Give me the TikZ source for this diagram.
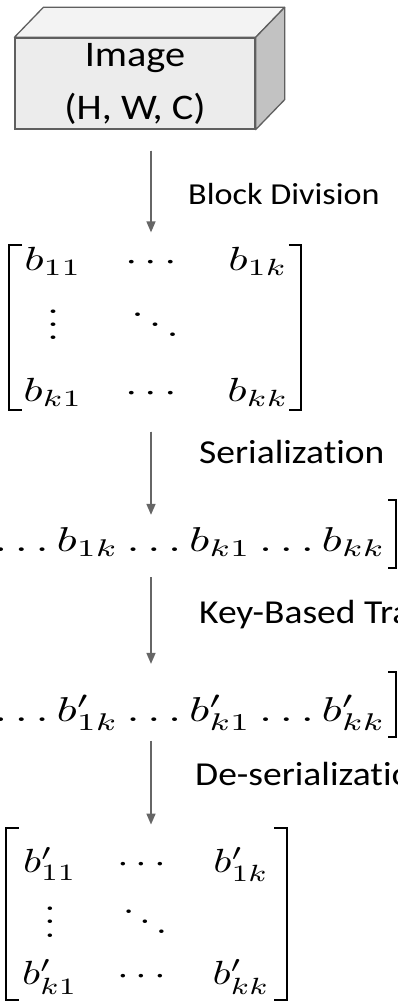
\documentclass[tikz,border=0pt]{standalone}
\usepackage{fontspec}
\usepackage{graphicx}
\usepackage{amsmath}
\usetikzlibrary{arrows.meta,calc,positioning}
\newfontfamily\labelfont[Ligatures=NoCommon, FakeStretch=1.12]{Carlito}
\definecolor{edgegray}{HTML}{5F5F5F}
\definecolor{frontgray}{HTML}{ECECEC}
\definecolor{topgray}{HTML}{F3F3F3}
\definecolor{sidegray}{HTML}{C2C2C2}
\definecolor{arrowgray}{HTML}{666666}
\setlength{\arraycolsep}{4.7pt}
\newcommand{\stretched}[3]{\scalebox{#1}[#2]{$#3$}}

\begin{document}
\begin{tikzpicture}[x=1pt,y=-1pt,
    cube/.style={draw=edgegray, line width=1.3pt, fill=frontgray, minimum width=240pt, minimum height=91pt, align=center, font=\labelfont\fontsize{36}{53}\selectfont},
    face/.style={draw=edgegray, line width=1.3pt, line join=round},
    steplabel/.style={anchor=base west, inner sep=0pt, font=\labelfont\fontsize{33.5}{40}\selectfont},
    flow/.style={-{Triangle[length=11pt,width=9pt]}, line width=1.6pt, draw=arrowgray, fill=arrowgray},
    bracket/.style={line width=1.6pt}]
    \useasboundingbox (0,0) rectangle (398,1006);
    \clip (0,0) rectangle (398,1006);
    \coordinate (axis) at (151,0);

    \node[cube] (image) at (135,83.5) {Image\\(H, W, C)};
    \draw[face, fill=topgray] (image.north west) -- ++(29,-30) -- ([shift={(29,-30)}]image.north east) -- (image.north east) -- cycle;
    \draw[face, fill=sidegray] (image.north east) -- ++(29,-30) -- ([shift={(29,-30)}]image.south east) -- (image.south east) -- cycle;

    \node[inner sep=0pt] (blocks) at (156,324) {\renewcommand{\arraystretch}{1.54}\stretched{4.5}{3.35}{\begin{matrix} b_{11} & \cdots & b_{1k}\\ \vdots & \ddots & \\ b_{k1} & \cdots & b_{kk}\end{matrix}}};
    \node[inner sep=0pt, anchor=base east] (serial) at (386,551) {\stretched{4.7}{3.45}{b_{11}\ldots b_{1k}\ldots b_{k1}\ldots b_{kk}}};
    \node[inner sep=0pt, anchor=base east] (keyed) at (386,721) {\stretched{4.7}{3.45}{b'_{11}\ldots b'_{1k}\ldots b'_{k1}\ldots b'_{kk}}};
    \node[inner sep=0pt] (restored) at (146,919) {\renewcommand{\arraystretch}{1.19}\stretched{4.2}{3.35}{\begin{matrix} b'_{11} & \cdots & b'_{1k}\\ \vdots & \ddots & \\ b'_{k1} & \cdots & b'_{kk}\end{matrix}}};

    \draw[bracket] ([shift={(-1,-79)}]blocks.west) -- ++(-13,0) -- ++(0,165) -- ++(13,0);
    \draw[bracket] ([shift={(0,-79)}]blocks.east) -- ++(12,0) -- ++(0,165) -- ++(-12,0);
    \draw[bracket] ([shift={(2,-51)}]serial.base east) -- ++(8,0) -- ++(0,68) -- ++(-8,0);
    \draw[bracket] ([shift={(-2,-51)}]serial.base west) -- ++(-8,0) -- ++(0,68) -- ++(8,0);
    \draw[bracket] ([shift={(2,-49)}]keyed.base east) -- ++(8,0) -- ++(0,65) -- ++(-8,0);
    \draw[bracket] ([shift={(-2,-49)}]keyed.base west) -- ++(-8,0) -- ++(0,65) -- ++(8,0);
    \draw[bracket] ([shift={(-3,-91)}]restored.west) -- ++(-13,0) -- ++(0,172) -- ++(13,0);
    \draw[bracket] ([shift={(4,-91)}]restored.east) -- ++(13,0) -- ++(0,172) -- ++(-13,0);

    \draw[flow, shorten <=21pt, shorten >=-5pt] (image.south -| axis) -- (blocks.north -| axis);
    \draw[flow, shorten <=11pt, shorten >=12pt] (blocks.south -| axis) -- (serial.north -| axis);
    \draw[flow, shorten <=21pt, shorten >=31pt] (serial.south -| axis) -- (keyed.north -| axis);
    \draw[flow, shorten <=10pt, shorten >=14pt] (keyed.south -| axis) -- (restored.north -| axis);

    \node[steplabel, font=\labelfont\fontsize{30.5}{40}\selectfont] (division) at (188,204) {Block Division};
    \node[steplabel] (serialization) at (199,463) {Serialization};
    \node[steplabel] (transform) at (199,623) {Key-Based Transformation};
    \node[steplabel] (deserialization) at (195,785) {De-serialization};
\end{tikzpicture}
\end{document}
